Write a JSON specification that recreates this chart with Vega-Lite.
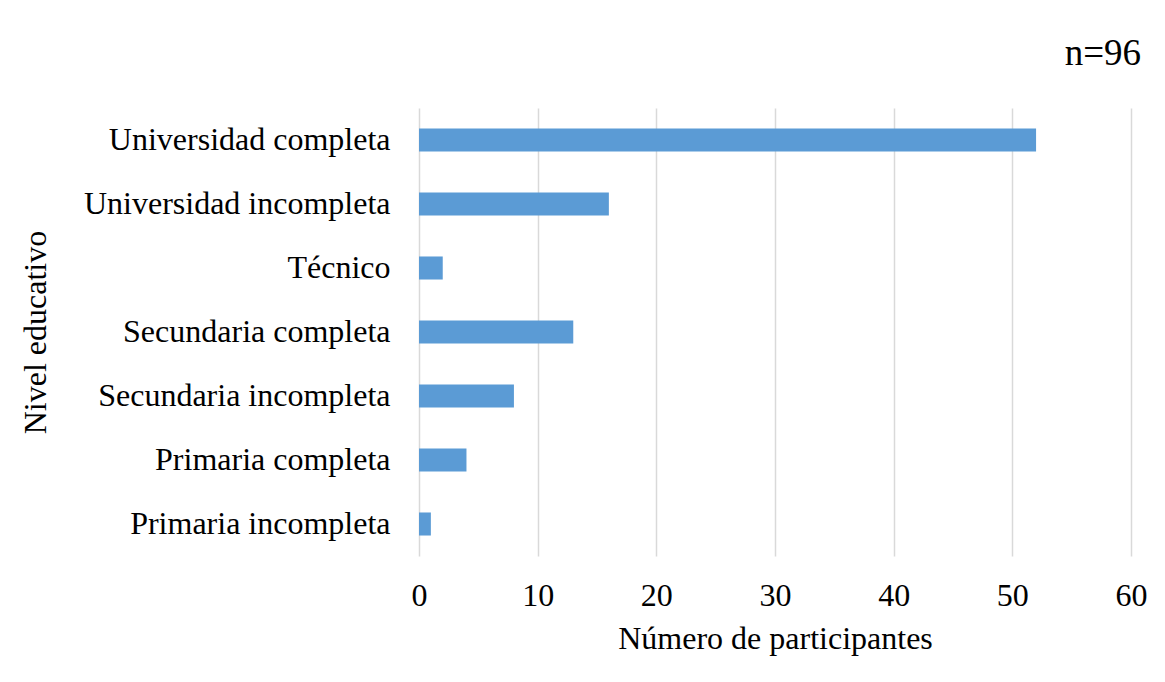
{
  "$schema": "https://vega.github.io/schema/vega-lite/v6.json",
  "width": 712,
  "height": 448,
  "autosize": {"type": "none"},
  "padding": {"left": 419, "top": 108, "right": 34, "bottom": 126},
  "background": "white",
  "title": {
    "text": "n=96",
    "anchor": "end",
    "frame": "group",
    "orient": "top",
    "baseline": "alphabetic",
    "offset": 6,
    "dx": 10,
    "font": "Liberation Serif",
    "fontSize": 37,
    "fontWeight": "normal",
    "color": "#000000"
  },
  "data": {
    "values": [
      {"nivel": "Universidad completa", "n": 52},
      {"nivel": "Universidad incompleta", "n": 16},
      {"nivel": "Técnico", "n": 2},
      {"nivel": "Secundaria completa", "n": 13},
      {"nivel": "Secundaria incompleta", "n": 8},
      {"nivel": "Primaria completa", "n": 4},
      {"nivel": "Primaria incompleta", "n": 1}
    ]
  },
  "mark": {"type": "bar", "color": "#5B9BD5"},
  "encoding": {
    "y": {
      "field": "nivel",
      "type": "nominal",
      "sort": null,
      "scale": {"paddingInner": 0.64, "paddingOuter": 0.32},
      "axis": {
        "title": "Nivel educativo",
        "domain": false,
        "ticks": false,
        "tickSize": 0,
        "labelPadding": 29,
        "labelFont": "Liberation Serif",
        "labelFontSize": 32,
        "labelColor": "#000000",
        "labelLimit": 500,
        "titleFont": "Liberation Serif",
        "titleFontSize": 32,
        "titleFontWeight": "normal",
        "titleColor": "#000000",
        "titleX": -384,
        "titleY": 224,
        "titleAngle": -90,
        "titleAlign": "center",
        "titleBaseline": "middle"
      }
    },
    "x": {
      "field": "n",
      "type": "quantitative",
      "scale": {"domain": [0, 60], "nice": false},
      "axis": {
        "title": "Número de participantes",
        "values": [0, 10, 20, 30, 40, 50, 60],
        "domain": false,
        "ticks": false,
        "tickSize": 0,
        "grid": true,
        "gridColor": "#d9d9d9",
        "gridWidth": 1.5,
        "labelFlush": false,
        "labelPadding": 24,
        "labelFont": "Liberation Serif",
        "labelFontSize": 32,
        "labelColor": "#000000",
        "titleFont": "Liberation Serif",
        "titleFontSize": 32,
        "titleFontWeight": "normal",
        "titleColor": "#000000",
        "titlePadding": 12
      }
    }
  },
  "config": {
    "view": {"stroke": null}
  }
}
